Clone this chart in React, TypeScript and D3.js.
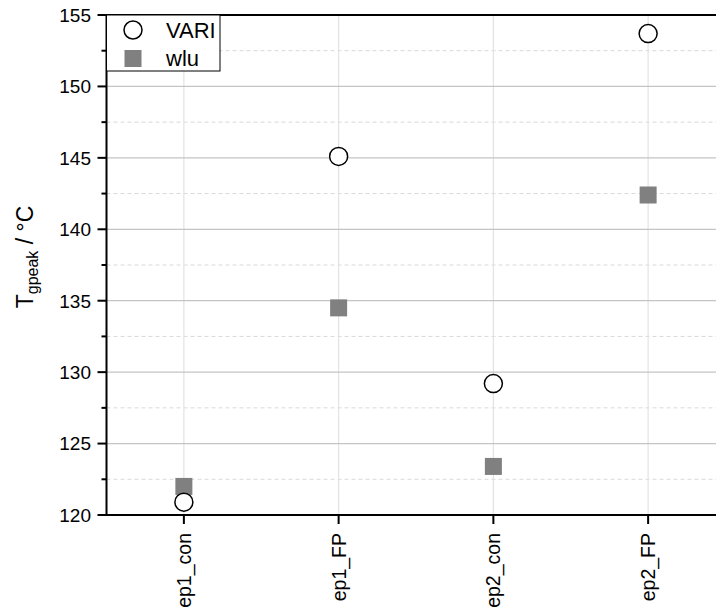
import React from "react";
import * as d3 from "d3";

const categories = ["ep1_con", "ep1_FP", "ep2_con", "ep2_FP"];
const variValues = [120.9, 145.1, 129.2, 153.7];
const wluValues = [122.0, 134.5, 123.4, 142.4];
const yMajorTicks = [120, 125, 130, 135, 140, 145, 150, 155];
const yMinorTicks = [122.5, 127.5, 132.5, 137.5, 142.5, 147.5, 152.5];

const W = 716;
const H = 614;
const left = 106.5;
const right = 725.5;
const top = 15;
const bottom = 515;
const font = "Liberation Sans, Arial, sans-serif";

export default function App() {
  const x = d3.scalePoint<string>().domain(categories).range([left, right]).padding(0.5);
  const y = d3.scaleLinear().domain([120, 155]).range([bottom, top]);

  return (
    <svg width={W} height={H} style={{ position: "absolute", left: 0, top: 0, background: "#fff" }} fontFamily={font}>
      <rect x={0} y={0} width={W} height={H} fill="#fff" />
      {/* minor grid */}
      {yMinorTicks.map((t) => (
        <line key={"mg" + t} x1={left} x2={right} y1={y(t)} y2={y(t)} stroke="#d9d9d9" strokeWidth={1} strokeDasharray="4,3" />
      ))}
      {/* vertical grid */}
      {categories.map((c) => (
        <line key={"vg" + c} x1={x(c)} x2={x(c)} y1={top} y2={bottom} stroke="#e3e3e3" strokeWidth={1.2} />
      ))}
      {/* major grid */}
      {yMajorTicks.map((t) => (
        <line key={"g" + t} x1={left} x2={right} y1={y(t)} y2={y(t)} stroke="#c4c4c4" strokeWidth={1.3} />
      ))}
      {/* axes */}
      <line x1={left} x2={left} y1={top - 1} y2={bottom + 1} stroke="#000" strokeWidth={2} />
      <line x1={left - 1} x2={right} y1={bottom} y2={bottom} stroke="#000" strokeWidth={2} />
      <line x1={left - 1} x2={right} y1={top} y2={top} stroke="#000" strokeWidth={2} />
      {/* y ticks */}
      {yMajorTicks.map((t) => (
        <g key={"yt" + t}>
          <line x1={left - 9} x2={left} y1={y(t)} y2={y(t)} stroke="#000" strokeWidth={2} />
          <text x={91} y={y(t)} dy="0.36em" textAnchor="end" fontSize={19} fill="#000">
            {t}
          </text>
        </g>
      ))}
      {yMinorTicks.map((t) => (
        <line key={"ym" + t} x1={left - 5} x2={left} y1={y(t)} y2={y(t)} stroke="#000" strokeWidth={2} />
      ))}
      {/* x ticks */}
      {categories.map((c) => (
        <g key={"xt" + c}>
          <line x1={x(c)} x2={x(c)} y1={bottom} y2={bottom + 9} stroke="#000" strokeWidth={2} />
          <text
            transform={`translate(${(x(c) as number) + 7},${bottom + 18}) rotate(-90)`}
            textAnchor="end"
            fontSize={19.5}
            fill="#000"
          >
            {c}
          </text>
        </g>
      ))}
      {/* y title */}
      <text transform={`translate(33,257) rotate(-90)`} textAnchor="middle" fontSize={23} fill="#000">
        T<tspan fontSize={16} dy={5}>gpeak</tspan>
        <tspan dy={-5}> / °C</tspan>
      </text>
      {/* wlu squares */}
      {categories.map((c, i) => (
        <rect key={"w" + c} x={(x(c) as number) - 8.5} y={y(wluValues[i]) - 8.5} width={17} height={17} fill="#808080" />
      ))}
      {/* VARI circles */}
      {categories.map((c, i) => (
        <circle key={"v" + c} cx={x(c)} cy={y(variValues[i])} r={9} fill="#fff" stroke="#000" strokeWidth={1.5} />
      ))}
      {/* legend */}
      <rect x={left} y={top} width={113.5} height={56} fill="#fff" stroke="#000" strokeWidth={1} />
      <circle cx={133} cy={30} r={9} fill="#fff" stroke="#000" strokeWidth={1.5} />
      <text x={166} y={37.5} fontSize={22} fill="#000">VARI</text>
      <rect x={124.5} y={50} width={17} height={17} fill="#808080" />
      <text x={166} y={65.5} fontSize={22} fill="#000">wlu</text>
    </svg>
  );
}
